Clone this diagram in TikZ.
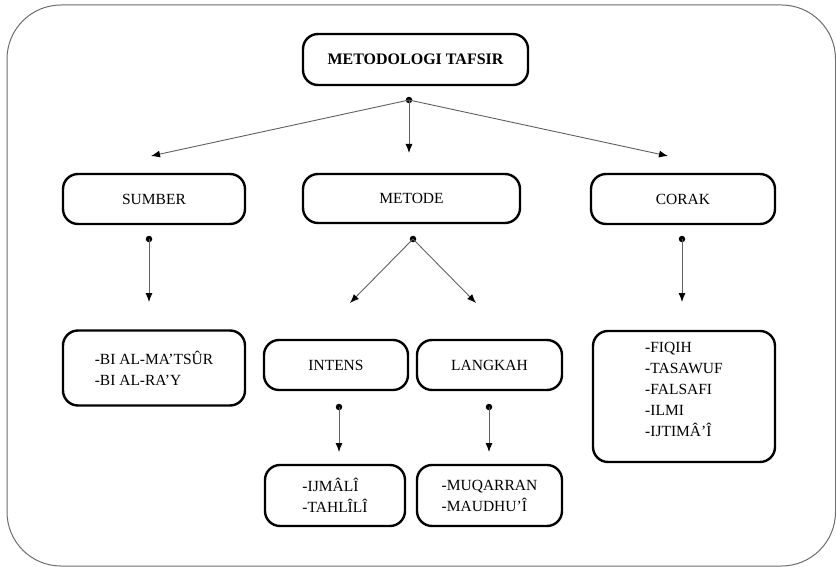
\documentclass[tikz,border=0pt]{standalone}
\usepackage{fontspec}
\setmainfont{Liberation Serif}
\usetikzlibrary{arrows.meta}
\tikzset{
  box/.style={draw=black, line width=2.4pt, rounded corners=15pt, inner sep=0pt,
    font=\fontsize{15.5}{21}\selectfont, align=left},
  titlebox/.style={box, font=\fontsize{16}{20}\selectfont\bfseries},
  joint/.style={circle, fill=black, inner sep=0pt, minimum size=6.5pt},
  link/.style={draw=gray!75!black, line width=0.9pt,
    -{Latex[length=9pt,width=7pt,color=black]}},
  frame/.style={draw=gray!85!black, line width=1pt, rounded corners=54pt}
}
\begin{document}
\begin{tikzpicture}[x=1pt, y=-1pt]
  \useasboundingbox (0,0) rectangle (836,567);
  % outer frame
  \draw[frame] (7,5) rectangle (835.5,566);

  % boxes
  \node[titlebox, minimum width=225pt, minimum height=51pt] (title) at (415.5,59.5) {METODOLOGI TAFSIR};
  \node[box, minimum width=182pt, minimum height=50pt] (sumber) at (154,199) {SUMBER};
  \node[box, minimum width=217pt, minimum height=49pt] (metode) at (411.5,198.5) {METODE};
  \node[box, minimum width=184pt, minimum height=50pt] (corak) at (683,199) {CORAK};
  \node[box, minimum width=182pt, minimum height=75pt] (bi) at (154,368) {-BI AL-MA’TSÛR\\-BI AL-RA’Y};
  \node[box, minimum width=144pt, minimum height=50pt] (intens) at (336,365) {INTENS};
  \node[box, minimum width=145pt, minimum height=50pt] (langkah) at (489.5,365) {LANGKAH};
  \node[box, minimum width=140pt, minimum height=61pt] (ijmali) at (335,495.5) {-IJMÂLÎ\\-TAHLÎLÎ};
  \node[box, minimum width=145pt, minimum height=61pt] (muqarran) at (489.5,495.5) {-MUQARRAN\\-MAUDHU’Î};
  \node[box, minimum width=182pt, minimum height=131pt, text depth=14pt] (coraklist) at (684,396.5)
    {-FIQIH\\-TASAWUF\\-FALSAFI\\-ILMI\\-IJTIMÂ’Î};

  % branching points
  \node[joint] (jtitle) at (409,100) {};
  \node[joint] (jsumber) at (149,239) {};
  \node[joint] (jmetode) at (413,239) {};
  \node[joint] (jcorak) at (682,239) {};
  \node[joint] (jintens) at (339,407) {};
  \node[joint] (jlangkah) at (489,407) {};

  % arrow ends
  \coordinate (tsumber) at (151,156);
  \coordinate (tmetode) at (409,153);
  \coordinate (tcorak) at (668,156);
  \coordinate (tbi) at (149,302);
  \coordinate (tintens) at (350,303);
  \coordinate (tlangkah) at (476,303);
  \coordinate (tcoraklist) at (682,302);
  \coordinate (tijmali) at (339,452);
  \coordinate (tmuqarran) at (489,452);

  % connectors
  \draw[link] (jtitle.center) -- (tsumber);
  \draw[link] (jtitle.center) -- (tmetode);
  \draw[link] (jtitle.center) -- (tcorak);
  \draw[link] (jsumber.center) -- (tbi);
  \draw[link] (jmetode.center) -- (tintens);
  \draw[link] (jmetode.center) -- (tlangkah);
  \draw[link] (jcorak.center) -- (tcoraklist);
  \draw[link] (jintens.center) -- (tijmali);
  \draw[link] (jlangkah.center) -- (tmuqarran);
\end{tikzpicture}
\end{document}
